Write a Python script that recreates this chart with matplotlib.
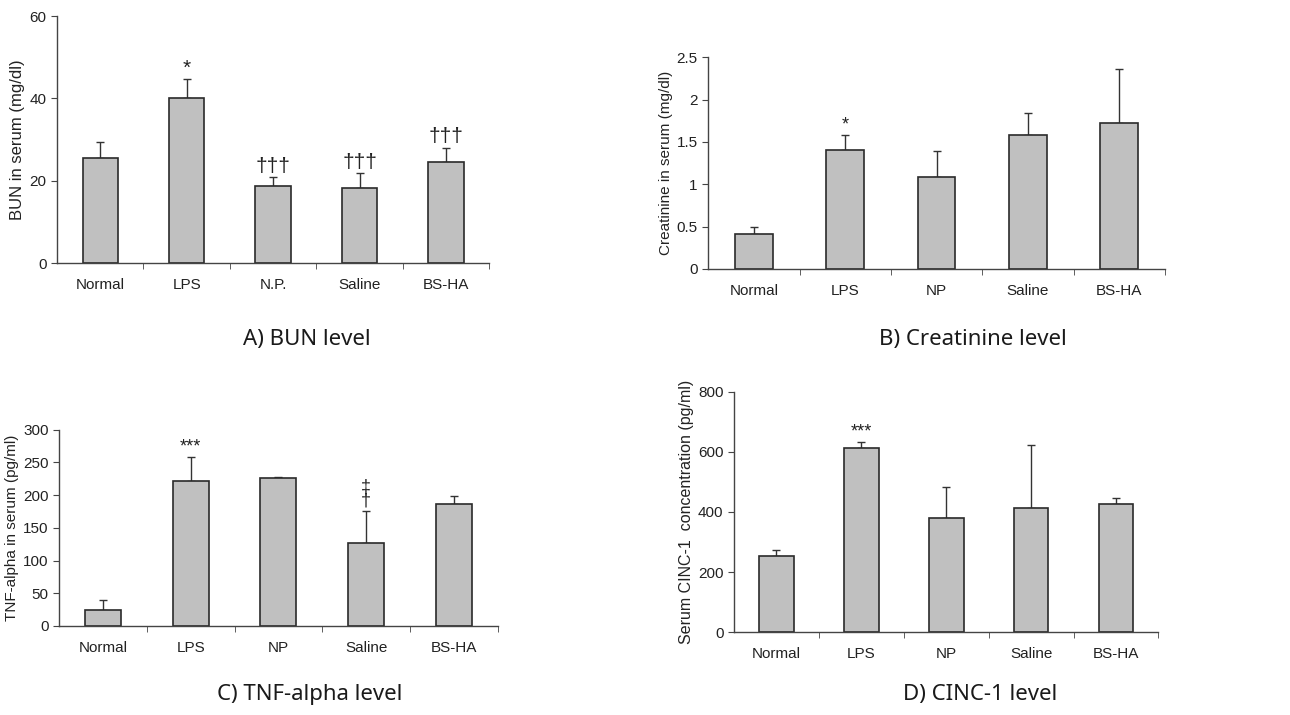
import numpy as np
import matplotlib.pyplot as plt

# groups on the x axis
groups_a = ["Normal", "LPS", "N.P.", "Saline", "BS-HA"]
groups = ["Normal", "LPS", "NP", "Saline", "BS-HA"]

# A) BUN (mg/dl)
bun_mean = [25.5, 40.2, 18.7, 18.2, 24.5]
bun_err = [4.0, 4.4, 2.2, 3.7, 3.5]
bun_marks = ["", "*", "†††", "†††", "†††"]

# B) Creatinine (mg/dl)
cre_mean = [0.41, 1.40, 1.08, 1.58, 1.72]
cre_err = [0.09, 0.185, 0.31, 0.255, 0.645]
cre_marks = ["", "*", "", "", ""]

# C) TNF-alpha (pg/ml)
tnf_mean = [25, 222, 226, 127, 186]
tnf_err = [14, 37, 2, 49, 12]
tnf_marks = ["", "***", "", "‡\n†", ""]

# D) CINC-1 (pg/ml)
cinc_mean = [254, 613, 381, 412, 428]
cinc_err = [20, 21, 101, 212, 18]
cinc_marks = ["", "***", "", "", ""]

plt.rcParams['font.family'] = ['Liberation Sans', 'DejaVu Sans']

BAR_COLOR = "#c0c0c0"
EDGE = "#2a2a2a"
AXIS = "#444444"


def draw_panel(ax, labels, mean, err, marks, ylim, yticks, yticklabels,
               ylabel, label_size=10.5, mark_size=13):
    x = np.arange(len(labels))
    ax.bar(x, mean, width=0.41, color=BAR_COLOR, edgecolor=EDGE,
           linewidth=1.2, zorder=2)
    ax.errorbar(x, mean, yerr=[np.zeros(len(err)), err], fmt="none",
                ecolor="#333333", elinewidth=1.0, capsize=3, capthick=1.0,
                zorder=1)
    for xi, m, e, s in zip(x, mean, err, marks):
        if s:
            ax.annotate(s, (xi, m + e), xytext=(0, 1), textcoords="offset points",
                        ha="center", va="bottom", fontsize=mark_size,
                        linespacing=0.8, color="#222222")

    ax.set_xlim(-0.5, len(labels) - 0.5)
    ax.set_ylim(*ylim)
    ax.set_yticks(yticks)
    ax.set_yticklabels(yticklabels)
    ax.set_xticks(x)
    ax.set_xticklabels(labels)
    ax.set_xticks(np.arange(len(labels)) + 0.5, minor=True)
    ax.tick_params(axis="x", which="major", length=0, pad=11, labelsize=11,
                   colors="#222222")
    ax.tick_params(axis="x", which="minor", length=4, direction="out",
                   color=AXIS)
    ax.tick_params(axis="y", length=4, direction="out", color=AXIS,
                   labelsize=11, labelcolor="#222222")
    ax.set_ylabel(ylabel, fontsize=label_size, color="#222222", labelpad=3)
    for sp in ["top", "right"]:
        ax.spines[sp].set_visible(False)
    for sp in ["left", "bottom"]:
        ax.spines[sp].set_color(AXIS)
        ax.spines[sp].set_linewidth(1.0)


fig = plt.figure(figsize=(12.9, 7.15), dpi=100)

ax_a = fig.add_axes([0.0442, 0.632, 0.335, 0.3456])
draw_panel(ax_a, groups_a, bun_mean, bun_err, bun_marks, (0, 60),
           [0, 20, 40, 60], ["0", "20", "40", "60"],
           "BUN in serum (mg/dl)", label_size=12, mark_size=15)

ax_b = fig.add_axes([0.549, 0.624, 0.354, 0.296])
draw_panel(ax_b, groups, cre_mean, cre_err, cre_marks, (0, 2.5),
           [0, 0.5, 1, 1.5, 2, 2.5], ["0", "0.5", "1", "1.5", "2", "2.5"],
           "Creatinine in serum (mg/dl)", label_size=11)

ax_c = fig.add_axes([0.0457, 0.1245, 0.3403, 0.2745])
draw_panel(ax_c, groups, tnf_mean, tnf_err, tnf_marks, (0, 300),
           [0, 50, 100, 150, 200, 250, 300],
           ["0", "50", "100", "150", "200", "250", "300"],
           "TNF-alpha in serum (pg/ml)", label_size=11)

ax_d = fig.add_axes([0.569, 0.116, 0.329, 0.336])
draw_panel(ax_d, groups, cinc_mean, cinc_err, cinc_marks, (0, 800),
           [0, 200, 400, 600, 800], ["0", "200", "400", "600", "800"],
           "Serum CINC-1  concentration (pg/ml)", label_size=11.5)

cap_font = ['Noto Sans', 'DejaVu Sans']
fig.text(0.238, 0.525, "A) BUN level", ha="center", va="center",
         fontsize=16, family=cap_font, color="#1a1a1a")
fig.text(0.754, 0.525, "B) Creatinine level", ha="center", va="center",
         fontsize=16, family=cap_font, color="#1a1a1a")
fig.text(0.240, 0.028, "C) TNF-alpha level", ha="center", va="center",
         fontsize=16, family=cap_font, color="#1a1a1a")
fig.text(0.760, 0.028, "D) CINC-1 level", ha="center", va="center",
         fontsize=16, family=cap_font, color="#1a1a1a")

fig.savefig("out.png", dpi=100, facecolor="white")
